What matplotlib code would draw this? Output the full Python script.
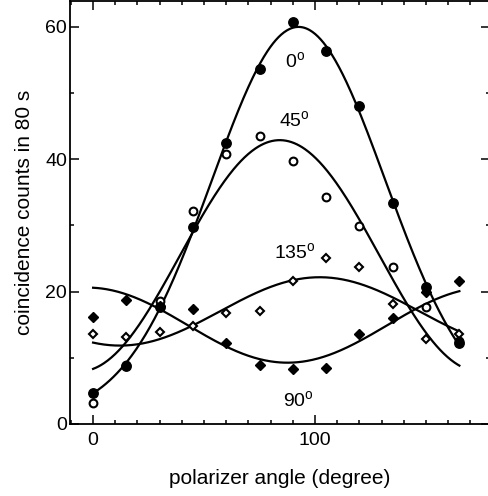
import numpy as np
import matplotlib
matplotlib.use("Agg")
import matplotlib.pyplot as plt
from matplotlib.ticker import MultipleLocator

plt.rcParams['font.family'] = ['Liberation Sans', 'DejaVu Sans']
plt.rcParams['mathtext.fontset'] = 'custom'
plt.rcParams['mathtext.rm'] = 'Liberation Sans'

angles = [0, 15, 30, 45, 60, 75, 90, 105, 120, 135, 150, 165]
counts_0 = [4.7, 8.8, 17.7, 29.8, 42.5, 53.6, 60.7, 56.3, 48.0, 33.4, 20.7, 12.2]
counts_45 = [3.2, 8.9, 18.6, 32.2, 40.8, 43.5, 39.7, 34.3, 29.9, 23.7, 17.7, 12.5]
counts_90 = [16.2, 18.8, 17.8, 17.4, 12.2, 8.9, 8.3, 8.4, 13.6, 16.0, 20.0, 21.6]
counts_135 = [13.6, 13.1, 13.9, 14.8, 16.7, 17.1, 21.6, 25.1, 23.7, 18.1, 12.8, 13.6]
labels = ['0', '45', '90', '135']
label_pos = [(86.5, 53.8), (83.8, 44.9), (85.6, 2.6), (81.5, 24.9)]


def fit_cos2(x, y):
    """Least-squares fit y = a + b cos(2x) + c sin(2x)."""
    x = np.asarray(x, float)
    y = np.asarray(y, float)
    A = np.column_stack([np.ones_like(x), np.cos(np.radians(2 * x)), np.sin(np.radians(2 * x))])
    c, *_ = np.linalg.lstsq(A, y, rcond=None)
    xs = np.linspace(x.min(), x.max(), 400)
    ys = c[0] + c[1] * np.cos(np.radians(2 * xs)) + c[2] * np.sin(np.radians(2 * xs))
    return xs, ys


def fit_gauss(x, y):
    """Least-squares fit y = a + b x + c exp(-(x-x0)^2 / 2 s^2), grid over x0, s."""
    x = np.asarray(x, float)
    y = np.asarray(y, float)
    best = None
    for x0 in np.arange(80, 105, 0.25):
        for s in np.arange(25, 60, 0.25):
            A = np.column_stack([np.ones_like(x), x, np.exp(-(x - x0) ** 2 / (2 * s * s))])
            c, *_ = np.linalg.lstsq(A, y, rcond=None)
            r = np.sum((A @ c - y) ** 2)
            if best is None or r < best[0]:
                best = (r, x0, s, c)
    _, x0, s, c = best
    xs = np.linspace(x.min(), x.max(), 400)
    ys = c[0] + c[1] * xs + c[2] * np.exp(-(xs - x0) ** 2 / (2 * s * s))
    return xs, ys


fig = plt.figure(figsize=(4.89, 4.96), dpi=100)
ax = fig.add_axes([70 / 489, 72 / 496, 420 / 489, 423 / 496])

for xs, yf in [fit_gauss(angles, counts_0), fit_cos2(angles, counts_45),
               fit_cos2(angles, counts_90), fit_cos2(angles, counts_135)]:
    ax.plot(xs, yf, color='black', lw=1.6, zorder=2)

ax.plot(angles, counts_135, ls='none', marker='D', ms=4.2, mfc='white', mec='black', mew=1.5, zorder=3)
ax.plot(angles, counts_45, ls='none', marker='o', ms=5.6, mfc='white', mec='black', mew=1.5, zorder=3)
ax.plot(angles, counts_90, ls='none', marker='D', ms=4.6, mfc='black', mec='black', zorder=4)
ax.plot(angles, counts_0, ls='none', marker='o', ms=6.8, mfc='black', mec='black', zorder=5)

for lab, (x, y) in zip(labels, label_pos):
    ax.text(x, y, lab + r'$^{\rm o}$', fontsize=14, ha='left', va='baseline')

ax.set_xlim(-10.4, 178.8)
ax.set_ylim(0, 63.9)
ax.xaxis.set_major_locator(MultipleLocator(100))
ax.xaxis.set_minor_locator(MultipleLocator(10))
ax.yaxis.set_major_locator(MultipleLocator(20))
ax.yaxis.set_minor_locator(MultipleLocator(10))
ax.tick_params(which='both', direction='in', top=True, right=True, width=1.1,
               labelsize=14)
ax.tick_params(which='major', length=6.5)
ax.tick_params(which='minor', length=3)
ax.tick_params(axis='x', pad=6)
ax.tick_params(axis='y', pad=2)
for s in ax.spines.values():
    s.set_linewidth(1.3)

ax.set_xlabel('polarizer angle (degree)', fontsize=15, labelpad=14)
ax.set_ylabel('coincidence counts in 80 s', fontsize=15, labelpad=8)

fig.savefig('out.png', dpi=100)
